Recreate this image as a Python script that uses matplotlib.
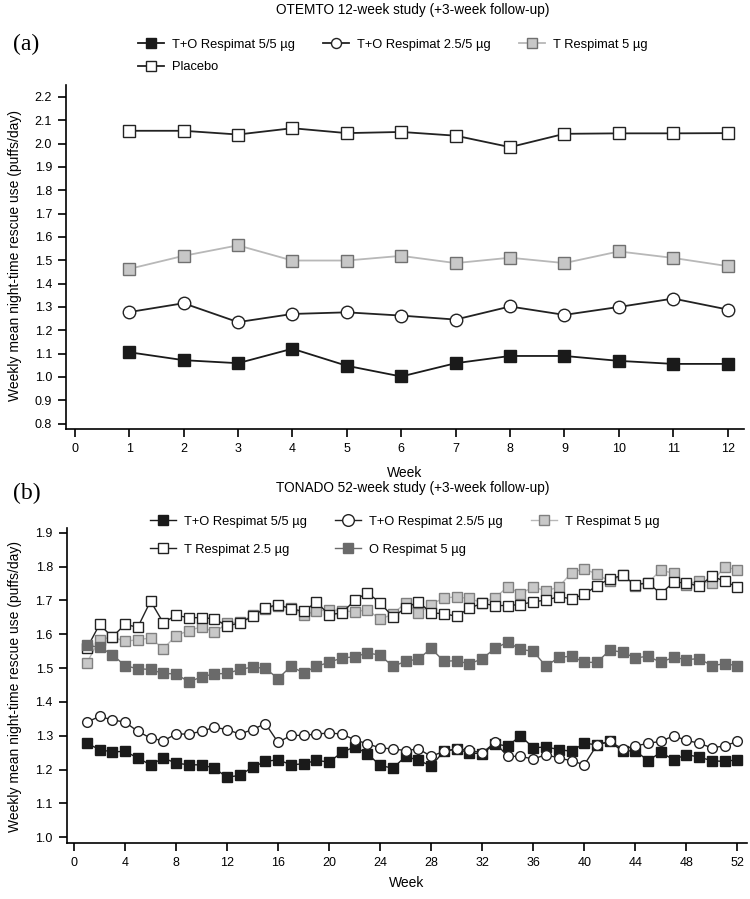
import numpy as np
import matplotlib.pyplot as plt

plt.rcParams['font.family'] = ['Liberation Sans', 'DejaVu Sans']

# (a) OTEMTO 12-week study
weeks_a = np.arange(1, 13)
a_to55 = [1.106, 1.072, 1.059, 1.121, 1.048, 1.002, 1.059, 1.090, 1.090, 1.069, 1.056, 1.056]
a_to255 = [1.278, 1.316, 1.235, 1.270, 1.277, 1.263, 1.246, 1.302, 1.266, 1.300, 1.336, 1.289]
a_t5 = [1.463, 1.519, 1.564, 1.499, 1.499, 1.519, 1.488, 1.511, 1.488, 1.538, 1.510, 1.475]
a_placebo = [2.055, 2.055, 2.039, 2.066, 2.045, 2.050, 2.034, 1.985, 2.042, 2.044, 2.044, 2.045]

# (b) TONADO 52-week study
weeks_b = np.arange(1, 53)
b_to55 = [1.278, 1.259, 1.252, 1.254, 1.234, 1.214, 1.234, 1.219, 1.214, 1.214, 1.204, 1.177, 1.183,
          1.207, 1.224, 1.229, 1.214, 1.217, 1.227, 1.222, 1.251, 1.267, 1.247, 1.212, 1.204, 1.239,
          1.227, 1.211, 1.254, 1.261, 1.249, 1.247, 1.276, 1.269, 1.300, 1.264, 1.267, 1.259, 1.254,
          1.278, 1.273, 1.283, 1.254, 1.256, 1.226, 1.251, 1.229, 1.244, 1.237, 1.226, 1.224, 1.229]
b_to255 = [1.340, 1.357, 1.347, 1.340, 1.313, 1.293, 1.285, 1.305, 1.305, 1.313, 1.325, 1.318, 1.305,
           1.318, 1.336, 1.280, 1.301, 1.301, 1.305, 1.308, 1.305, 1.288, 1.276, 1.264, 1.261, 1.256,
           1.261, 1.239, 1.254, 1.261, 1.257, 1.249, 1.280, 1.239, 1.239, 1.231, 1.244, 1.234, 1.226,
           1.214, 1.273, 1.283, 1.261, 1.269, 1.278, 1.283, 1.300, 1.286, 1.278, 1.264, 1.270, 1.283]
b_t5 = [1.515, 1.584, 1.592, 1.579, 1.584, 1.589, 1.557, 1.596, 1.611, 1.622, 1.606, 1.632, 1.636,
        1.656, 1.676, 1.685, 1.678, 1.658, 1.668, 1.673, 1.670, 1.666, 1.673, 1.644, 1.660, 1.693,
        1.663, 1.688, 1.708, 1.710, 1.706, 1.693, 1.708, 1.740, 1.720, 1.740, 1.728, 1.740, 1.782,
        1.794, 1.777, 1.757, 1.774, 1.744, 1.752, 1.790, 1.780, 1.747, 1.757, 1.752, 1.800, 1.790]
b_t25 = [1.558, 1.629, 1.592, 1.629, 1.621, 1.698, 1.634, 1.656, 1.649, 1.649, 1.646, 1.624, 1.634,
         1.653, 1.678, 1.688, 1.675, 1.668, 1.695, 1.658, 1.663, 1.700, 1.723, 1.693, 1.651, 1.678,
         1.696, 1.663, 1.661, 1.653, 1.678, 1.691, 1.685, 1.685, 1.688, 1.696, 1.701, 1.711, 1.705,
         1.718, 1.744, 1.764, 1.774, 1.747, 1.752, 1.720, 1.754, 1.752, 1.742, 1.772, 1.757, 1.739]
b_o5 = [1.567, 1.562, 1.540, 1.507, 1.498, 1.496, 1.484, 1.483, 1.459, 1.474, 1.483, 1.484, 1.496,
        1.503, 1.499, 1.469, 1.505, 1.486, 1.505, 1.517, 1.530, 1.533, 1.545, 1.538, 1.505, 1.520,
        1.527, 1.558, 1.520, 1.522, 1.512, 1.528, 1.558, 1.577, 1.555, 1.550, 1.505, 1.532, 1.535,
        1.517, 1.517, 1.553, 1.547, 1.530, 1.535, 1.517, 1.532, 1.525, 1.528, 1.507, 1.513, 1.507]

lab_to55 = 'T+O Respimat 5/5 µg'
lab_to255 = 'T+O Respimat 2.5/5 µg'
lab_t5 = 'T Respimat 5 µg'
lab_t25 = 'T Respimat 2.5 µg'
lab_o5 = 'O Respimat 5 µg'
lab_pl = 'Placebo'

ylab = 'Weekly mean night-time rescue use (puffs/day)'
fs = 9          # tick labels
fs_leg = 9.3    # legend
fs_lab = 10     # axis labels

fig = plt.figure(figsize=(7.5, 8.99), dpi=100)
ax1 = fig.add_axes([0.088, 0.5228, 0.904, 0.3826])
ax2 = fig.add_axes([0.089, 0.062, 0.9067, 0.3506])


def style(ax):
    for s in ['top', 'right']:
        ax.spines[s].set_visible(False)
    for s in ['left', 'bottom']:
        ax.spines[s].set_linewidth(1.2)
    ax.tick_params(direction='out', length=6, width=1.2, labelsize=fs, pad=4)


# top panel
ms = 8.5
h1, = ax1.plot(weeks_a, a_to55, '-s', color='#1a1a1a', mfc='#1a1a1a', mec='#1a1a1a', ms=ms, lw=1.3, label=lab_to55)
h2, = ax1.plot(weeks_a, a_to255, '-o', color='#222222', mfc='white', mec='#222222', ms=ms + 0.5, lw=1.3, label=lab_to255)
h3, = ax1.plot(weeks_a, a_t5, '-s', color='#b8b8b8', mfc='#c8c8c8', mec='#707070', ms=ms, lw=1.3, label=lab_t5)
h4, = ax1.plot(weeks_a, a_placebo, '-s', color='#222222', mfc='white', mec='#222222', ms=ms, lw=1.3, label=lab_pl)
style(ax1)
ax1.set_xlim(-0.16, 12.3)
ax1.set_ylim(0.777, 2.251)
ax1.set_xticks(range(0, 13))
ax1.set_yticks(np.arange(0.8, 2.21, 0.1))
ax1.set_yticklabels(['%.1f' % v for v in np.arange(0.8, 2.21, 0.1)])
ax1.set_xlabel('Week', fontsize=fs_lab, labelpad=8)
fig.text(0.011, 0.716, ylab, rotation=90, ha='left', va='center', fontsize=fs_lab)
fig.text(0.55, 0.989, 'OTEMTO 12-week study (+3-week follow-up)', ha='center', va='center', fontsize=9.8)
fig.text(0.018, 0.95, '(a)', ha='left', va='center', fontsize=17, family='Liberation Serif')
fig.legend([h1, h4, h2, h3], [lab_to55, lab_pl, lab_to255, lab_t5], ncol=3, frameon=False,
           loc='upper left', bbox_to_anchor=(0.176, 0.964), fontsize=fs_leg, handlelength=2.0,
           handletextpad=0.6, columnspacing=2.2, labelspacing=0.8, borderpad=0, markerscale=0.8)

# bottom panel
ms = 6.5
g1, = ax2.plot(weeks_b, b_to55, '-s', color='#1a1a1a', mfc='#1a1a1a', mec='#1a1a1a', ms=ms, lw=1.0, label=lab_to55)
g2, = ax2.plot(weeks_b, b_to255, '-o', color='#222222', mfc='white', mec='#222222', ms=ms + 0.5, lw=1.0, label=lab_to255)
g3, = ax2.plot(weeks_b, b_t5, '-s', color='#b8b8b8', mfc='#c8c8c8', mec='#808080', ms=ms, lw=1.0, label=lab_t5)
g4, = ax2.plot(weeks_b, b_t25, '-s', color='#222222', mfc='white', mec='#222222', ms=ms, lw=1.0, label=lab_t25)
g5, = ax2.plot(weeks_b, b_o5, '-s', color='#6a6a6a', mfc='#6a6a6a', mec='#6a6a6a', ms=ms, lw=1.0, label=lab_o5)
style(ax2)
ax2.set_xlim(-0.57, 52.74)
ax2.set_ylim(0.982, 1.914)
ax2.set_xticks(range(0, 53, 4))
ax2.set_yticks(np.arange(1.0, 1.91, 0.1))
ax2.set_yticklabels(['%.1f' % v for v in np.arange(1.0, 1.91, 0.1)])
ax2.set_xlabel('Week', fontsize=fs_lab, labelpad=5)
fig.text(0.011, 0.236, ylab, rotation=90, ha='left', va='center', fontsize=fs_lab)
fig.text(0.55, 0.457, 'TONADO 52-week study (+3-week follow-up)', ha='center', va='center', fontsize=9.8)
fig.text(0.018, 0.4516, '(b)', ha='left', va='center', fontsize=17, family='Liberation Serif')
fig.legend([g1, g4, g2, g5, g3], [lab_to55, lab_t25, lab_to255, lab_o5, lab_t5], ncol=3, frameon=False,
           loc='upper left', bbox_to_anchor=(0.192, 0.4335), fontsize=fs_leg, handlelength=2.0,
           handletextpad=0.6, columnspacing=2.2, labelspacing=1.25, borderpad=0, markerscale=1.2)

fig.savefig('out.png', dpi=100)
